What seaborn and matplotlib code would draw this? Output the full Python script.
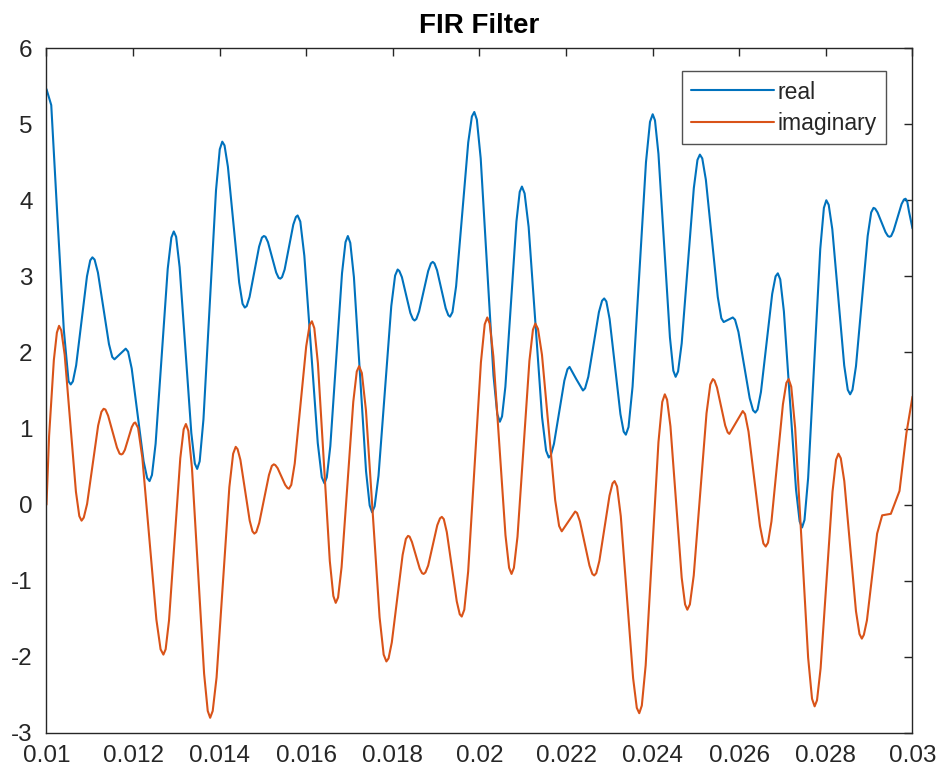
import matplotlib
matplotlib.use("Agg")
import matplotlib.pyplot as plt
import seaborn as sns
import pandas as pd

# ---- data ----
real_x = [0.01000, 0.01011, 0.01025, 0.01040, 0.01048, 0.01056, 0.010685, 0.010935, 0.01106,
          0.011188, 0.011443, 0.01157, 0.01170, 0.01183, 0.011968, 0.012243, 0.01238,
          0.01252, 0.01280, 0.01294, 0.013075, 0.013345, 0.01348, 0.013625, 0.013915, 0.01406,
          0.01419, 0.01445, 0.01458, 0.01469, 0.01491, 0.01502, 0.015115, 0.015305, 0.01540,
          0.01550, 0.01570, 0.01580, 0.015955, 0.016265, 0.01642, 0.016555, 0.016825, 0.01696,
          0.01710, 0.01738, 0.01752, 0.017668, 0.017963, 0.01811, 0.018208, 0.018403, 0.01850,
          0.018605, 0.018815, 0.01892, 0.01902, 0.01922, 0.01932, 0.01946, 0.01974, 0.01988,
          0.020028, 0.020323, 0.02047, 0.020598, 0.020853, 0.02098, 0.021135, 0.021445, 0.02160,
          0.02172, 0.02196, 0.02208, 0.022235, 0.02239, 0.022513, 0.022758, 0.02288, 0.023005,
          0.023255, 0.02338, 0.023535, 0.023845, 0.02400, 0.024133, 0.024398, 0.02453, 0.02467,
          0.02495, 0.02509, 0.025228, 0.025503, 0.02564, 0.02585, 0.02598, 0.02624, 0.02637,
          0.02650, 0.02676, 0.02689, 0.02703, 0.02731, 0.02745, 0.02759, 0.02787, 0.02801,
          0.028148, 0.028423, 0.02856, 0.028695, 0.028965, 0.02910, 0.029193, 0.029378, 0.02947,
          0.029563, 0.029748, 0.02984, 0.02992, 0.03000]
real_y = [5.46, 5.25, 3.80, 2.30, 1.80, 1.58, 1.83, 3.00, 3.25,
          3.05, 2.11, 1.91, 1.98, 2.05, 1.79, 0.57, 0.31,
          0.80, 3.10, 3.59, 3.12, 0.94, 0.47, 1.12, 4.13, 4.77,
          4.44, 2.92, 2.59, 2.73, 3.39, 3.53, 3.45, 3.05, 2.97,
          3.09, 3.68, 3.80, 3.27, 0.81, 0.28, 0.77, 3.04, 3.53,
          2.99, 0.44, -0.10, 0.38, 2.61, 3.09, 2.99, 2.52, 2.42,
          2.54, 3.07, 3.19, 3.08, 2.58, 2.47, 2.87, 4.76, 5.16,
          4.55, 1.70, 1.09, 1.55, 3.72, 4.18, 3.65, 1.15, 0.62,
          0.80, 1.63, 1.81, 1.65, 1.50, 1.68, 2.53, 2.71, 2.44,
          1.19, 0.92, 1.55, 4.50, 5.13, 4.61, 2.20, 1.68, 2.12,
          4.16, 4.60, 4.27, 2.73, 2.40, 2.46, 2.27, 1.40, 1.21,
          1.48, 2.77, 3.04, 2.54, 0.20, -0.30, 0.35, 3.36, 4.00,
          3.62, 1.83, 1.45, 1.82, 3.53, 3.90, 3.84, 3.58, 3.52,
          3.60, 3.95, 4.02, 3.85, 3.63]
# extra readings close to the turning points of the real part
real_x_near = [0.01051, 0.01061, 0.01101, 0.011111, 0.011519, 0.011885, 0.012325, 0.012436,
               0.012884, 0.012994, 0.013426, 0.013538, 0.014002, 0.014112, 0.014528, 0.014624,
               0.014976, 0.015058, 0.015362, 0.01544, 0.01576, 0.015862, 0.016358, 0.016474,
               0.016906, 0.017016, 0.017464, 0.017579, 0.018051, 0.018149, 0.018461, 0.018542,
               0.018878, 0.01896, 0.01928, 0.019376, 0.019824, 0.019939, 0.020411, 0.020521,
               0.020929, 0.021042, 0.021538, 0.021648, 0.022032, 0.022439, 0.022831, 0.02293,
               0.02333, 0.023442, 0.023938, 0.024053, 0.024477, 0.024586, 0.025034, 0.025145,
               0.025585, 0.025902, 0.026318, 0.026422, 0.026838, 0.026946, 0.027394, 0.027506,
               0.027954, 0.028065, 0.028505, 0.028614, 0.029046, 0.029137, 0.029433, 0.029507,
               0.029803, 0.02988]
real_y_near = [1.62, 1.62, 3.21, 3.22, 1.94, 2.01, 0.35, 0.39,
               3.51, 3.52, 0.54, 0.57, 4.67, 4.72, 2.64, 2.61,
               3.51, 3.52, 2.98, 2.99, 3.78, 3.72, 0.36, 0.36,
               3.45, 3.44, -0.01, -0.02, 3.01, 3.07, 2.44, 2.44,
               3.17, 3.17, 2.49, 2.53, 5.10, 5.06, 1.19, 1.16,
               4.11, 4.09, 0.71, 0.65, 1.78, 1.53, 2.68, 2.67,
               0.96, 1.02, 5.03, 5.05, 1.76, 1.75, 4.53, 4.55,
               2.45, 2.43, 1.24, 1.25, 3.00, 2.96, -0.22, -0.20,
               3.90, 3.94, 1.51, 1.51, 3.84, 3.89, 3.53, 3.53,
               4.01, 3.98]

imag_x = [0.01000, 0.01006, 0.01017, 0.01029, 0.01042, 0.01068, 0.01081, 0.010938, 0.011193,
          0.01132, 0.011423, 0.011628, 0.01173, 0.01181, 0.01197, 0.01205, 0.012213, 0.012538,
          0.01270, 0.01283, 0.01309, 0.01322, 0.01336, 0.01364, 0.01378, 0.013928, 0.014223,
          0.01437, 0.014478, 0.014693, 0.01480, 0.014913, 0.015138, 0.01525, 0.015338, 0.015513,
          0.01560, 0.015733, 0.015998, 0.01613, 0.016268, 0.016543, 0.01668, 0.016815, 0.017085,
          0.01722, 0.017378, 0.017693, 0.01785, 0.017975, 0.018225, 0.01835, 0.01844, 0.01862,
          0.01871, 0.018815, 0.019025, 0.01913, 0.019245, 0.019475, 0.01959, 0.019738, 0.020033,
          0.02018, 0.02032, 0.02060, 0.02074, 0.020878, 0.021153, 0.02129, 0.021443, 0.021748,
          0.02190, 0.022055, 0.02221, 0.02232, 0.02254, 0.02265, 0.022768, 0.023003, 0.02312,
          0.023263, 0.023548, 0.02369, 0.023838, 0.024133, 0.02428, 0.02441, 0.02467, 0.02480,
          0.024948, 0.025243, 0.02539, 0.025485, 0.025675, 0.02577, 0.025925, 0.02608, 0.026213,
          0.026478, 0.02661, 0.026743, 0.027008, 0.02714, 0.02729, 0.02759, 0.02774, 0.027878,
          0.028153, 0.02829, 0.028425, 0.028695, 0.02883, 0.028948, 0.029183, 0.02930, 0.02950,
          0.02970, 0.02986, 0.03000]
imag_y = [0.00, 0.90, 1.90, 2.35, 1.97, 0.17, -0.21, 0.01, 1.04,
          1.26, 1.17, 0.75, 0.66, 0.72, 1.02, 1.08, 0.62, -1.51,
          -1.97, -1.52, 0.61, 1.06, 0.48, -2.22, -2.80, -2.27, 0.23,
          0.76, 0.59, -0.21, -0.38, -0.24, 0.39, 0.53, 0.48, 0.26,
          0.21, 0.54, 2.08, 2.41, 1.86, -0.74, -1.29, -0.82, 1.35,
          1.82, 1.24, -1.48, -2.06, -1.81, -0.66, -0.41, -0.49, -0.84,
          -0.91, -0.80, -0.27, -0.16, -0.36, -1.27, -1.47, -0.88, 1.87,
          2.46, 1.95, -0.40, -0.91, -0.42, 1.89, 2.38, 1.97, 0.06,
          -0.35, -0.22, -0.09, -0.22, -0.80, -0.93, -0.74, 0.12, 0.31,
          -0.15, -2.28, -2.74, -2.11, 0.82, 1.45, 1.03, -0.96, -1.38,
          -0.93, 1.20, 1.65, 1.54, 1.04, 0.93, 1.08, 1.23, 0.96,
          -0.28, -0.55, -0.22, 1.32, 1.65, 1.01, -2.01, -2.65, -2.15,
          0.17, 0.67, 0.31, -1.40, -1.76, -1.52, -0.38, -0.14, -0.12,
          0.18, 0.94, 1.42]
# extra readings close to the turning points of the imaginary part
imag_x_near = [0.01024, 0.010342, 0.010758, 0.010861, 0.011269, 0.011361, 0.011689, 0.011762,
               0.012018, 0.012115, 0.012635, 0.012752, 0.013168, 0.013276, 0.013724, 0.013839,
               0.014311, 0.014413, 0.014757, 0.014845, 0.015205, 0.015285, 0.015565, 0.015653,
               0.016077, 0.016185, 0.016625, 0.016734, 0.017166, 0.017283, 0.017787, 0.01790,
               0.01830, 0.018386, 0.018674, 0.018752, 0.019088, 0.019176, 0.019544, 0.019649,
               0.020121, 0.020236, 0.020684, 0.020795, 0.021235, 0.021351, 0.021839, 0.022254,
               0.022606, 0.022697, 0.023073, 0.023177, 0.023633, 0.023749, 0.024221, 0.024332,
               0.024748, 0.024859, 0.025331, 0.025428, 0.025732, 0.026133, 0.026557, 0.026663,
               0.027087, 0.02720, 0.02768, 0.027795, 0.028235, 0.028344, 0.028776, 0.028877]
imag_y_near = [2.26, 2.29, -0.15, -0.17, 1.22, 1.25, 0.67, 0.67,
               1.07, 1.01, -1.90, -1.90, 0.99, 0.97, -2.71, -2.71,
               0.67, 0.73, -0.35, -0.36, 0.51, 0.52, 0.22, 0.26,
               2.36, 2.32, -1.20, -1.22, 1.75, 1.73, -1.97, -2.02,
               -0.45, -0.42, -0.90, -0.89, -0.18, -0.19, -1.44, -1.38,
               2.37, 2.38, -0.83, -0.83, 2.30, 2.31, -0.28, -0.11,
               -0.91, -0.90, 0.28, 0.24, -2.67, -2.64, 1.35, 1.38,
               -1.31, -1.31, 1.58, 1.63, 0.95, 1.19, -0.51, -0.50,
               1.60, 1.55, -2.55, -2.57, 0.59, 0.61, -1.70, -1.71]

series_names = ["real", "imaginary"]
series_colors = ["#0072BD", "#D95319"]
x_ticks = [0.010, 0.012, 0.014, 0.016, 0.018, 0.020, 0.022, 0.024, 0.026, 0.028, 0.030]
x_tick_labels = ["0.01", "0.012", "0.014", "0.016", "0.018", "0.02",
                 "0.022", "0.024", "0.026", "0.028", "0.03"]
y_ticks = [-3, -2, -1, 0, 1, 2, 3, 4, 5, 6]
y_tick_labels = ["-3", "-2", "-1", "0", "1", "2", "3", "4", "5", "6"]
title_text = "FIR Filter"

df = pd.concat([
    pd.DataFrame({"t": real_x + real_x_near, "v": real_y + real_y_near, "part": series_names[0]}),
    pd.DataFrame({"t": imag_x + imag_x_near, "v": imag_y + imag_y_near, "part": series_names[1]}),
], ignore_index=True)

sns.set_style("white")
plt.rcParams["font.family"] = ["Liberation Sans", "DejaVu Sans"]
plt.rcParams["axes.unicode_minus"] = False

fig = plt.figure(figsize=(9.41, 7.75), dpi=100)
ax = fig.add_axes([0.0494, 0.0542, 0.9203, 0.8838])

sns.lineplot(data=df, x="t", y="v", hue="part", palette=series_colors,
             hue_order=series_names, estimator=None, sort=True,
             linewidth=1.5, ax=ax)

ax.set_xlim(0.01, 0.03)
ax.set_ylim(-3, 6)
ax.set_xticks(x_ticks)
ax.set_xticklabels(x_tick_labels)
ax.set_yticks(y_ticks)
ax.set_yticklabels(y_tick_labels)
ax.set_xlabel("")
ax.set_ylabel("")
ax.set_title(title_text, fontsize=20, fontweight="bold", color="black", pad=11)

for s in ax.spines.values():
    s.set_visible(True)
    s.set_color("#262626")
    s.set_linewidth(1.0)
ax.tick_params(axis="both", which="major", direction="in", length=6, width=1.0,
               color="#262626", labelcolor="#262626", labelsize=17.5,
               top=True, right=True)
ax.tick_params(axis="x", pad=9)
ax.tick_params(axis="y", pad=10)

leg = ax.legend(loc="upper right", bbox_to_anchor=(0.969, 0.966), borderaxespad=0,
                frameon=True, fancybox=False, fontsize=16.5, handlelength=3.6,
                handletextpad=0.15, borderpad=0.4, labelspacing=0.35)
leg.get_frame().set_edgecolor("#262626")
leg.get_frame().set_linewidth(1.0)
for h in leg.get_lines():
    h.set_linewidth(1.5)
for t in leg.get_texts():
    t.set_color("#262626")

fig.savefig("out.png", dpi=100, facecolor="white")
